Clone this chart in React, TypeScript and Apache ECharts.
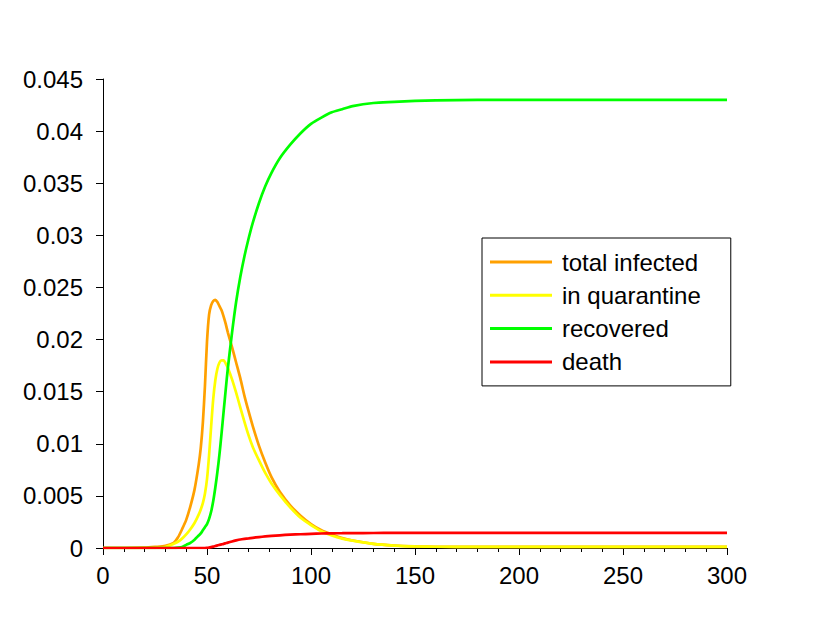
import React, { useEffect, useRef } from "react";
import * as echarts from "echarts";

const days = [0, 10, 20, 25, 30, 34, 36, 38, 40, 42, 44, 46, 47, 48, 49, 50, 51, 52, 53, 54, 55, 56, 57, 58, 59, 60, 62, 64, 66, 68, 70, 72, 75, 78, 81, 85, 90, 95, 100, 105, 110, 115, 120, 130, 140, 150, 160, 180, 200, 250, 300];

const totalInfected = [0, 0, 0.00003, 0.0001, 0.0002, 0.0005, 0.001, 0.0018, 0.0027, 0.004, 0.0056, 0.008, 0.0096, 0.012, 0.0155, 0.0198, 0.0224, 0.0233, 0.0237, 0.0238, 0.0236, 0.0232, 0.0228, 0.0222, 0.0215, 0.0207, 0.0193, 0.0178, 0.0163, 0.0146, 0.0131, 0.0117, 0.0098, 0.0082, 0.0068, 0.0054, 0.0041, 0.0031, 0.0023, 0.0017, 0.0013, 0.00095, 0.00072, 0.0004, 0.00024, 0.00016, 0.00012, 0.0001, 0.0001, 0.0001, 0.0001];

const inQuarantine = [0, 0, 0, 0.00002, 0.0001, 0.0004, 0.0006, 0.0009, 0.0013, 0.0018, 0.0024, 0.0032, 0.0037, 0.0043, 0.0052, 0.0066, 0.0089, 0.0117, 0.0143, 0.0161, 0.0172, 0.0178, 0.018, 0.018, 0.0177, 0.0173, 0.0162, 0.0149, 0.0135, 0.0121, 0.0108, 0.0097, 0.0084, 0.0072, 0.0062, 0.0051, 0.0039, 0.0029, 0.0022, 0.0016, 0.0012, 0.0009, 0.0007, 0.00039, 0.00023, 0.00015, 0.00012, 0.0001, 0.0001, 0.0001, 0.0001];

const recovered = [0, 0, 0, 0, 0, 0, 0.00003, 0.0001, 0.0003, 0.0005, 0.0008, 0.0012, 0.0014, 0.0017, 0.002, 0.0023, 0.0028, 0.0035, 0.0045, 0.0058, 0.0073, 0.009, 0.011, 0.0131, 0.0152, 0.0172, 0.0206, 0.0236, 0.026, 0.028, 0.0297, 0.0312, 0.0331, 0.0347, 0.036, 0.0374, 0.0387, 0.0398, 0.0407, 0.0413, 0.0418, 0.0421, 0.0424, 0.0427, 0.0428, 0.0429, 0.04295, 0.043, 0.043, 0.043, 0.043];

const death = [0, 0, 0, 0, 0, 0, 0, 0, 0, 0, 0, 0, 0, 0, 0, 0.00002, 0.00004, 0.00008, 0.00013, 0.00019, 0.00025, 0.0003, 0.00035, 0.0004, 0.00046, 0.00052, 0.00063, 0.00073, 0.00082, 0.00088, 0.00093, 0.00098, 0.00105, 0.00111, 0.00116, 0.00122, 0.00128, 0.00132, 0.00136, 0.00139, 0.00141, 0.00142, 0.00143, 0.00144, 0.00145, 0.00145, 0.00145, 0.00145, 0.00145, 0.00145, 0.00145];

const seriesNames = ["total infected", "in quarantine", "recovered", "death"];
const seriesColors = ["#ffa000", "#ffff00", "#00ff00", "#ff0000"];
const seriesValues = [totalInfected, inQuarantine, recovered, death];

const FONT = "'Liberation Sans', Arial, Helvetica, sans-serif";

export default function App() {
  const ref = useRef<HTMLDivElement>(null);

  useEffect(() => {
    if (!ref.current) return;
    const chart = echarts.init(ref.current, null, { renderer: "svg" });
    chart.setOption({
      animation: false,
      backgroundColor: "#ffffff",
      textStyle: { fontFamily: FONT },
      grid: { left: 103, right: 103, top: 79, bottom: 78, containLabel: false },
      legend: {
        show: true,
        orient: "vertical",
        left: 482,
        top: 238,
        data: seriesNames,
        icon: "rect",
        itemWidth: 62,
        itemHeight: 3,
        itemGap: 9.3,
        padding: [12, 30, 12, 8],
        borderColor: "#000000",
        borderWidth: 1,
        borderRadius: 0,
        backgroundColor: "#ffffff",
        selectedMode: false,
        textStyle: {
          fontFamily: FONT,
          fontSize: 24,
          lineHeight: 24,
          color: "#000000",
          padding: [0, 0, 0, 5],
        },
      },
      xAxis: {
        type: "value",
        min: 0,
        max: 300,
        interval: 50,
        splitLine: { show: false },
        axisLine: { show: true, onZero: false, lineStyle: { color: "#000", width: 1 } },
        axisTick: { show: true, length: 7, lineStyle: { color: "#000", width: 1 } },
        minorTick: { show: true, splitNumber: 5, length: 4, lineStyle: { color: "#000", width: 1 } },
        minorSplitLine: { show: false },
        axisLabel: { fontFamily: FONT, fontSize: 24, color: "#000", margin: 15 },
      },
      yAxis: {
        type: "value",
        min: 0,
        max: 0.045,
        interval: 0.005,
        splitLine: { show: false },
        axisLine: { show: true, onZero: false, lineStyle: { color: "#000", width: 1 } },
        axisTick: { show: true, length: 7, lineStyle: { color: "#000", width: 1 } },
        axisLabel: {
          fontFamily: FONT,
          fontSize: 24,
          color: "#000",
          margin: 20,
          formatter: (v: number) => String(parseFloat(v.toFixed(3))),
        },
      },
      series: seriesNames.map((name, k) => ({
        name,
        type: "line",
        data: days.map((d, i) => [d, seriesValues[k][i]]),
        showSymbol: false,
        symbol: "none",
        smooth: 0.25,
        color: seriesColors[k],
        lineStyle: { color: seriesColors[k], width: 2.7 },
        itemStyle: { color: seriesColors[k] },
        z: 2 + k,
      })),
    });
    return () => chart.dispose();
  }, []);

  return (
    <div
      ref={ref}
      style={{ position: "absolute", left: 0, top: 0, width: 830, height: 626 }}
    />
  );
}
